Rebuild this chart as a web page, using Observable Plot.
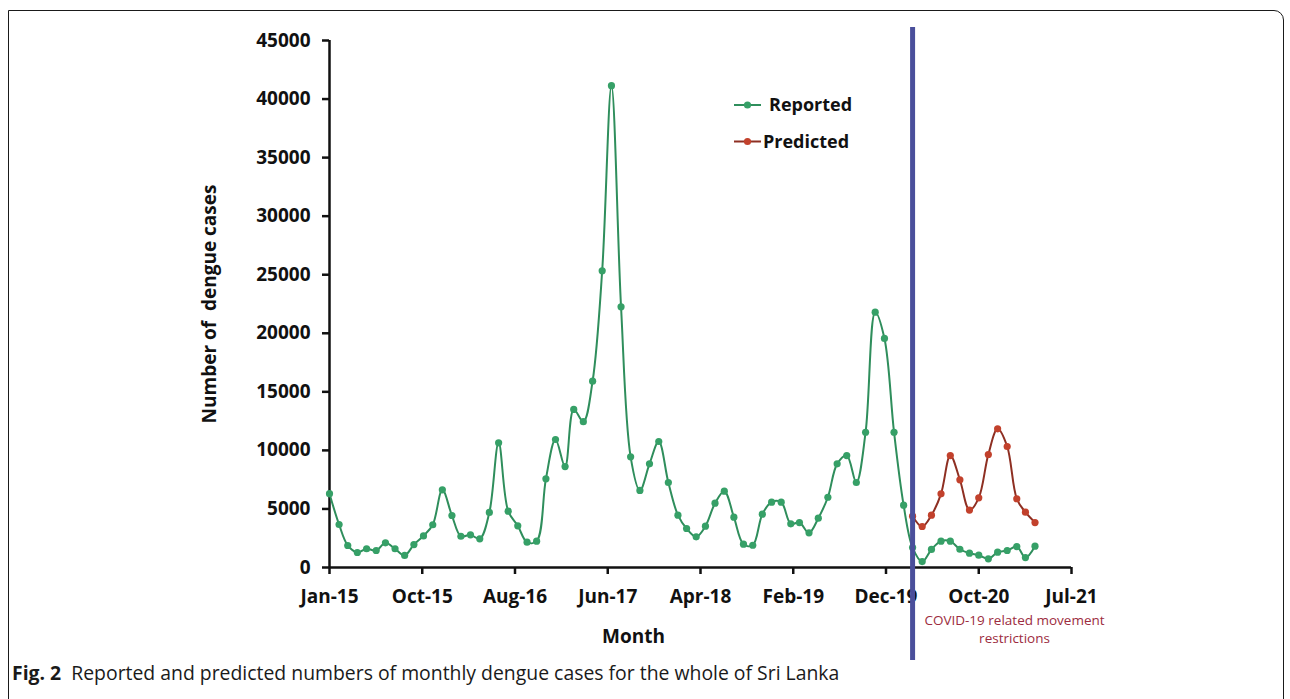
<!DOCTYPE html>
<html>
<head>
<meta charset="utf-8">
<script src="https://cdn.jsdelivr.net/npm/d3@7"></script>
<script src="https://cdn.jsdelivr.net/npm/@observablehq/plot@0.6"></script>
<style>
  body { margin: 0; background: #fff; width: 1290px; height: 699px; overflow: hidden; position: relative; font-family: "Open Sans", sans-serif; }
  #frame { position: absolute; left: 8px; top: 10px; width: 1276px; height: 760px; border: 1.5px solid #1a1a1a; border-top-right-radius: 10px; box-sizing: border-box; }
  #chart { position: absolute; left: 0; top: 0; }
  #legend { position: absolute; left: 0; top: 0; pointer-events: none; }
  #caption { position: absolute; left: 12px; top: 659px; font-size: 19.4px; line-height: 28px; color: #1a1a1a; white-space: nowrap; }
  #caption b { font-weight: 700; }
</style>
</head>
<body>
<div id="frame"></div>
<div id="chart"></div>
<svg id="legend" width="1290" height="200"></svg>
<div id="caption"><b>Fig. 2</b>&nbsp; Reported and predicted numbers of monthly dengue cases for the whole of Sri Lanka</div>
<script>
// Monthly reported dengue cases, Jan 2015 – Apr 2021
const reportedStart = [2015, 0];
const reported = [
  6300, 3670, 1880, 1280, 1600, 1450, 2110, 1600, 1030, 1960, 2700, 3650,
  6630, 4440, 2670, 2790, 2450, 4700, 10650, 4810, 3560, 2160, 2250, 7570,
  10930, 8620, 13500, 12450, 15910, 25340, 41140, 22260, 9450, 6580, 8850, 10760,
  7260, 4470, 3330, 2620, 3530, 5490, 6520, 4300, 1990, 1900, 4550, 5580,
  5580, 3730, 3840, 2960, 4210, 6000, 8850, 9560, 7260, 11550, 21800, 19560,
  11550, 5320, 1700, 510, 1540, 2250, 2250, 1560, 1220, 1050, 740, 1310,
  1450, 1790, 850, 1820
];

// Monthly predicted cases, Mar 2020 – Apr 2021
const predictedStart = [2020, 2];
const predicted = [4380, 3500, 4470, 6290, 9560, 7490, 4900, 5950, 9650, 11840, 10330, 5870, 4720, 3840];

// Start of COVID-19 movement restrictions (Mar 2020)
const restrictionStart = [2020, 2];

// Axis setup: y ticks every 5000, x ticks every 300 days from Jan 2015
const yTicks = [0, 5000, 10000, 15000, 20000, 25000, 30000, 35000, 40000, 45000];
const xTickStepDays = 300;
const xTickCount = 9;

const seriesNames = ["Reported", "Predicted"];
const GREEN_LINE = "#2f8e5c", GREEN_DOT = "#36a067";
const RED_LINE = "#8e2f22", RED_DOT = "#c2412c";
const BLUE = "#4a4f9b";
const NOTE = "#9c2c40";

const monthDate = (start, i) => new Date(Date.UTC(start[0], start[1] + i, 1));
const reportedRows = reported.map((v, i) => ({date: monthDate(reportedStart, i), value: v}));
const predictedRows = predicted.map((v, i) => ({date: monthDate(predictedStart, i), value: v}));

const axisStart = new Date(Date.UTC(2015, 0, 1));
const xTicks = d3.range(xTickCount).map(i => d3.utcDay.offset(axisStart, i * xTickStepDays));
const axisEnd = xTicks[xTicks.length - 1];
const covid = monthDate(restrictionStart, 0);

const font = "'Open Sans', sans-serif";

const chart = Plot.plot({
  width: 1290,
  height: 660,
  marginLeft: 329,
  marginRight: 219,
  marginTop: 40,
  marginBottom: 93,
  style: {fontFamily: font, background: "transparent", overflow: "visible", color: "#111"},
  x: {type: "utc", domain: [axisStart, axisEnd]},
  y: {domain: [0, 45000]},
  marks: [
    Plot.axisY({ticks: yTicks, tickSize: 7, tickPadding: 12, strokeWidth: 2.5, tickFormat: d => String(d),
                fontSize: 19, fontWeight: "bold",
                label: "Number of\u00a0 dengue cases", labelAnchor: "center", labelArrow: "none", labelOffset: 127}),
    Plot.axisX({ticks: xTicks, tickSize: 7, tickPadding: 15, strokeWidth: 2.5, tickFormat: d3.utcFormat("%b-%y"),
                fontSize: 19, fontWeight: "bold", label: null}),
    Plot.ruleY([0], {stroke: "#111", strokeWidth: 2.5}),
    Plot.ruleX([axisStart], {stroke: "#111", strokeWidth: 2.5}),
    // x axis title
    Plot.text(["Month"], {frameAnchor: "bottom", dx: -67, dy: 75, fontSize: 19, fontWeight: "bold", fill: "#111"}),
    // series
    Plot.line(reportedRows, {x: "date", y: "value", stroke: GREEN_LINE, strokeWidth: 2, curve: "catmull-rom"}),
    Plot.dot(reportedRows, {x: "date", y: "value", r: 3.6, fill: GREEN_DOT}),
    Plot.line(predictedRows, {x: "date", y: "value", stroke: RED_LINE, strokeWidth: 2, curve: "catmull-rom"}),
    Plot.dot(predictedRows, {x: "date", y: "value", r: 3.6, fill: RED_DOT}),
    // restriction marker and note
    Plot.ruleX([covid], {stroke: BLUE, strokeWidth: 5, insetTop: -13, insetBottom: -93}),
    Plot.text(["COVID-19 related movement\nrestrictions"], {frameAnchor: "bottom-right", textAnchor: "middle",
                dx: -57, dy: 75, lineHeight: 1.33, fontSize: 13.5, fill: NOTE})
  ]
});
document.getElementById("chart").appendChild(chart);

// Legend
const legend = d3.select("#legend");
const legendItems = [
  {name: seriesNames[0], line: GREEN_LINE, dot: GREEN_DOT, y: 105, textX: 769},
  {name: seriesNames[1], line: RED_LINE, dot: RED_DOT, y: 141.5, textX: 763}
];
for (const it of legendItems) {
  legend.append("line").attr("x1", 734).attr("x2", 761).attr("y1", it.y).attr("y2", it.y)
    .attr("stroke", it.line).attr("stroke-width", 2);
  legend.append("circle").attr("cx", 747.5).attr("cy", it.y).attr("r", 3.6).attr("fill", it.dot);
  legend.append("text").attr("x", it.textX).attr("y", it.y).attr("dy", "0.35em")
    .attr("font-family", font).attr("font-size", 18).attr("font-weight", "bold").attr("fill", "#111")
    .text(it.name);
}
</script>
</body>
</html>
